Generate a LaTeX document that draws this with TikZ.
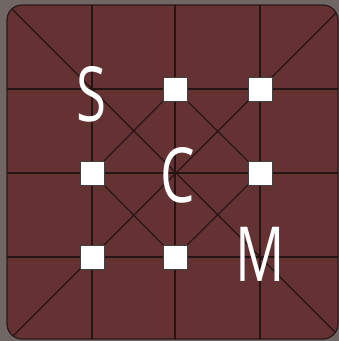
\documentclass[tikz,border=0pt]{standalone}
\usepackage{fontspec}
\newfontfamily\logofont{Open Sans}[FakeStretch=0.72]
\definecolor{boardred}{RGB}{100,50,50}
\definecolor{gridline}{RGB}{36,20,20}
\definecolor{outside}{RGB}{112,103,101}
\begin{document}
\begin{tikzpicture}[
    x=1pt, y=-1pt,
    board/.style={draw=gridline, line width=0.8pt, fill=boardred, rounded corners=15pt},
    gridrule/.style={draw=gridline, line width=1.8pt},
    diag/.style={draw=gridline, line width=1.1pt},
    stone/.style={rectangle, draw=black!75, line width=0.7pt, fill=white, minimum size=24pt, inner sep=0pt},
    letter/.style={text=white, font=\logofont\fontsize{76}{76}\selectfont, inner sep=0pt}
]
% -------------------------
% Frame
% -------------------------
    \fill[outside] (0,0) rectangle (339,341);
    \useasboundingbox (0,0) rectangle (339,341);
    \path[board] (7,5) rectangle (338,339);

% -------------------------
% Grid points
% -------------------------
    \coordinate (p11) at (92,89);
    \coordinate (p21) at (175,89);
    \coordinate (p31) at (260,89);
    \coordinate (p12) at (92,173);
    \coordinate (p22) at (175,173);
    \coordinate (p32) at (260,173);
    \coordinate (p13) at (92,257);
    \coordinate (p23) at (175,257);
    \coordinate (p33) at (260,257);

    % ends of the grid rules on the frame
    \coordinate (t1) at (92,5);   \coordinate (b1) at (92,339);
    \coordinate (t2) at (175,5);  \coordinate (b2) at (175,339);
    \coordinate (t3) at (260,5);  \coordinate (b3) at (260,339);
    \coordinate (l1) at (7,89);   \coordinate (r1) at (338,89);
    \coordinate (l2) at (7,173);  \coordinate (r2) at (338,173);
    \coordinate (l3) at (7,257);  \coordinate (r3) at (338,257);

% -------------------------
% Lines (clipped to the frame)
% -------------------------
    \begin{scope}
        \clip[rounded corners=15pt] (7,5) rectangle (338,339);
        \foreach \i in {1,2,3} {
            \draw[gridrule] (t\i) -- (b\i);
            \draw[gridrule] (l\i) -- (r\i);
        }
        % long diagonals
        \draw[diag, shorten <=-130pt, shorten >=-130pt] (p11) -- (p33);
        \draw[diag, shorten <=-130pt, shorten >=-130pt] (p31) -- (p13);
        % inner diamond
        \draw[diag] (p21) -- (p32) -- (p23) -- (p12) -- cycle;
    \end{scope}
    \draw[draw=gridline, line width=0.8pt, rounded corners=15pt] (7,5) rectangle (338,339);

% -------------------------
% Stones and letters
% -------------------------
    \node[stone] (s21) at (p21) {};
    \node[stone] (s31) at (p31) {};
    \node[stone] (s12) at (p12) {};
    \node[stone] (s32) at (p32) {};
    \node[stone] (s13) at (p13) {};
    \node[stone] (s23) at (p23) {};

    \node[letter, yshift=-5pt] (sletter) at (p11) {S};
    \node[letter, xshift=3pt, yshift=-2.5pt] (cletter) at (p22) {C};
    \node[letter, yshift=2.5pt] (mletter) at (p33) {M};
\end{tikzpicture}
\end{document}
